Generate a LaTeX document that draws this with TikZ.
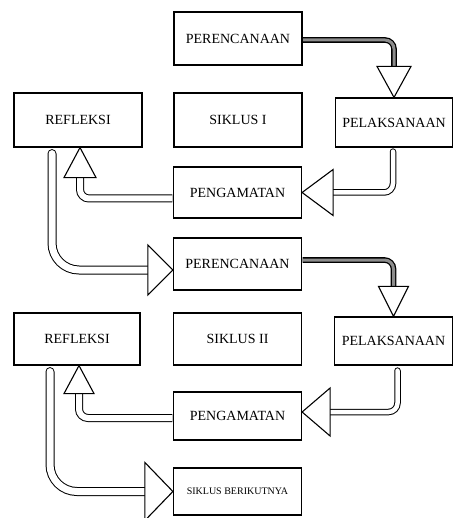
\documentclass[tikz,border=0pt]{standalone}
\usepackage{fontspec}
\setmainfont{Liberation Serif}
\usetikzlibrary{calc}
\begin{document}
\begin{tikzpicture}[x=1pt,y=-1pt,
  box/.style={draw, line width=1.2pt, rectangle, inner sep=0pt, minimum width=128pt, minimum height=52pt, font=\fontsize{14}{16}\selectfont},
  shaftG/.style={draw, line width=1.3pt, double=black!45, double distance=3pt, rounded corners=9pt, line cap=butt},
  shaft/.style={draw, line width=1pt, double=white, double distance=4.5pt, rounded corners=9pt, line cap=round},
  shaftB/.style={draw, line width=1pt, double=white, double distance=6pt, rounded corners=9pt, line cap=butt},
  shaftC/.style={draw, line width=1pt, double=white, double distance=7pt, rounded corners=27pt, line cap=round},
  headtri/.style={draw, fill=white, line width=1.1pt, line join=miter}]
\useasboundingbox (0,0) rectangle (454,518);
% nodes
\node[box, minimum height=53pt] (per1) at (238,38.5) {PERENCANAAN};
\node[box, minimum height=54pt] (sik1) at (238,120) {SIKLUS I};
\node[box, minimum width=117pt, minimum height=49pt] (pel1) at (394,122.5) {PELAKSANAAN};
\node[box, minimum height=54pt] (ref1) at (78,120) {REFLEKSI};
\node[box, minimum height=51pt] (pen1) at (237.5,192.5) {PENGAMATAN};
\node[box] (per2) at (237.5,264) {PERENCANAAN};
\node[box, minimum width=126pt] (ref2) at (77,339) {REFLEKSI};
\node[box] (sik2) at (237.5,339) {SIKLUS II};
\node[box, minimum width=118pt, minimum height=48pt] (pel2) at (393.5,341) {PELAKSANAAN};
\node[box, minimum height=48pt] (pen2) at (237.5,416) {PENGAMATAN};
\node[box, minimum height=47pt, font=\fontsize{10}{12}\selectfont] (sb) at (237.5,491.5) {SIKLUS BERIKUTNYA};
% arrow 1
\draw[shaftG] ([xshift=0.6pt,yshift=-1.5pt]per1.east) -| ($(pel1.north)+(0,-28)$);
\draw[headtri] (pel1.north) -- ++(-17,-31) -- ++(34,0) -- cycle;
% arrow 2
\draw[shaft] ([xshift=-1pt,yshift=-4pt]pel1.south) |- ($(pen1.east)+(28,0)$);
\draw[headtri] (pen1.east) -- ++(31,-23) -- ++(0,46) -- cycle;
% arrow 3
\draw[shaftB] ([xshift=-0.6pt,yshift=-6pt]pen1.west) -| ($(ref1.south)+(2,27)$);
\draw[headtri] ([xshift=2pt]ref1.south) -- ++(-16,30) -- ++(32,0) -- cycle;
% arrow 4
\draw[shaftC] ([xshift=-26pt,yshift=-6pt]ref1.south) |- ($(per2.west)+(-22,6)$);
\draw[headtri] ([yshift=-6pt]per2.west) -- ++(-25,-25) -- ++(0,50) -- cycle;
% arrow 5
\draw[shaftG] ([xshift=0.6pt,yshift=4pt]per2.east) -| ($(pel2.north)+(0,-27)$);
\draw[headtri] (pel2.north) -- ++(-15,-30) -- ++(30,0) -- cycle;
% arrow 6
\draw[shaft] ([xshift=4pt,yshift=-5pt]pel2.south) |- ($(pen2.east)+(25,-4)$);
\draw[headtri] ([yshift=4pt]pen2.east) -- ++(28,-24) -- ++(0,48) -- cycle;
% arrow 7
\draw[shaftB] ([xshift=-0.6pt,yshift=-2pt]pen2.west) -| ($(ref2.south)+(2,25)$);
\draw[headtri] ([xshift=2pt]ref2.south) -- ++(-15,28) -- ++(30,0) -- cycle;
% arrow 8
\draw[shaftC] ([xshift=-27pt,yshift=-6pt]ref2.south) |- ($(sb.west)+(-25,0)$);
\draw[headtri] (sb.west) -- ++(-28,-29) -- ++(0,58) -- cycle;
\end{tikzpicture}
\end{document}
